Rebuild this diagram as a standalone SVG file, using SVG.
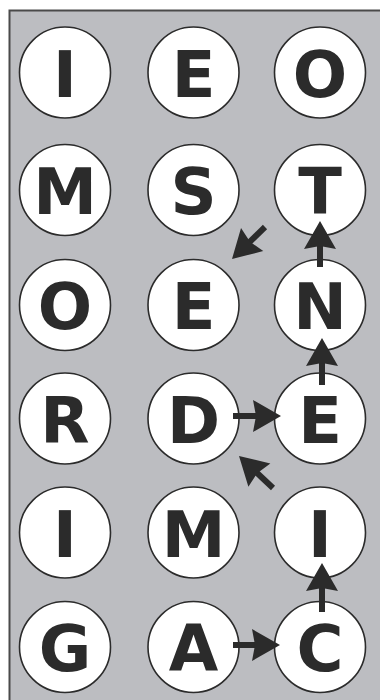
<svg xmlns="http://www.w3.org/2000/svg" xmlns:xlink="http://www.w3.org/1999/xlink" width="380" height="700" viewBox="0 0 380 700">
<style>
.node circle{fill:#fff;stroke:#2b2b2b;stroke-width:1.6}
.node text{font-family:"DejaVu Sans","Liberation Sans",sans-serif;font-weight:bold;font-size:64px;fill:#2b2b2b;text-anchor:middle}
.conn line{stroke:#2b2b2b;stroke-width:6}
.conn use{fill:#2b2b2b}
</style>
<defs>
<polygon id="head" points="0,0 -28,-16 -25,0 -28,16"/>
</defs>
<rect x="9.5" y="10.5" width="380" height="700" fill="#bcbdc1" stroke="#4a4a4a" stroke-width="2"/>
<g id="n-r1c1" class="node"><circle cx="65" cy="72.5" r="45.5"/><text x="65" y="96.5">I</text></g>
<g id="n-r1c2" class="node"><circle cx="193.5" cy="72.5" r="45.5"/><text x="193.5" y="96.5">E</text></g>
<g id="n-r1c3" class="node"><circle cx="320" cy="72.5" r="45.5"/><text x="320" y="96.5">O</text></g>
<g id="n-r2c1" class="node"><circle cx="65" cy="190" r="45.5"/><text x="65" y="214">M</text></g>
<g id="n-r2c2" class="node"><circle cx="193.5" cy="190" r="45.5"/><text x="193.5" y="214">S</text></g>
<g id="n-r2c3" class="node"><circle cx="320" cy="190" r="45.5"/><text x="320" y="214">T</text></g>
<g id="n-r3c1" class="node"><circle cx="65" cy="305" r="45.5"/><text x="65" y="329">O</text></g>
<g id="n-r3c2" class="node"><circle cx="193.5" cy="305" r="45.5"/><text x="193.5" y="329">E</text></g>
<g id="n-r3c3" class="node"><circle cx="320" cy="305" r="45.5"/><text x="320" y="329">N</text></g>
<g id="n-r4c1" class="node"><circle cx="65" cy="418.5" r="45.5"/><text x="65" y="442.5">R</text></g>
<g id="n-r4c2" class="node"><circle cx="193.5" cy="418.5" r="45.5"/><text x="193.5" y="442.5">D</text></g>
<g id="n-r4c3" class="node"><circle cx="320" cy="418.5" r="45.5"/><text x="320" y="442.5">E</text></g>
<g id="n-r5c1" class="node"><circle cx="65" cy="532.5" r="45.5"/><text x="65" y="556.5">I</text></g>
<g id="n-r5c2" class="node"><circle cx="193.5" cy="532.5" r="45.5"/><text x="193.5" y="556.5">M</text></g>
<g id="n-r5c3" class="node"><circle cx="320" cy="532.5" r="45.5"/><text x="320" y="556.5">I</text></g>
<g id="n-r6c1" class="node"><circle cx="65" cy="647" r="45.5"/><text x="65" y="671">G</text></g>
<g id="n-r6c2" class="node"><circle cx="193.5" cy="647" r="45.5"/><text x="193.5" y="671">A</text></g>
<g id="n-r6c3" class="node"><circle cx="320" cy="647" r="45.5"/><text x="320" y="671">C</text></g>
<g id="connectors" class="conn">
<line x1="265" y1="227" x2="246.4" y2="245.1"/><use xlink:href="#head" href="#head" transform="translate(232 259) rotate(136)"/>
<line x1="320" y1="267" x2="320" y2="241"/><use xlink:href="#head" href="#head" transform="translate(320 221) rotate(-90)"/>
<line x1="322" y1="385" x2="322" y2="358"/><use xlink:href="#head" href="#head" transform="translate(322 338) rotate(-90)"/>
<line x1="233" y1="416" x2="261" y2="416"/><use xlink:href="#head" href="#head" transform="translate(281 416)"/>
<line x1="273" y1="488" x2="253.6" y2="469.7"/><use xlink:href="#head" href="#head" transform="translate(239 456) rotate(-136.7)"/>
<line x1="322" y1="612" x2="322" y2="583"/><use xlink:href="#head" href="#head" transform="translate(322 563) rotate(-90)"/>
<line x1="233" y1="645" x2="260" y2="645"/><use xlink:href="#head" href="#head" transform="translate(280 645)"/>
</g>
</svg>
